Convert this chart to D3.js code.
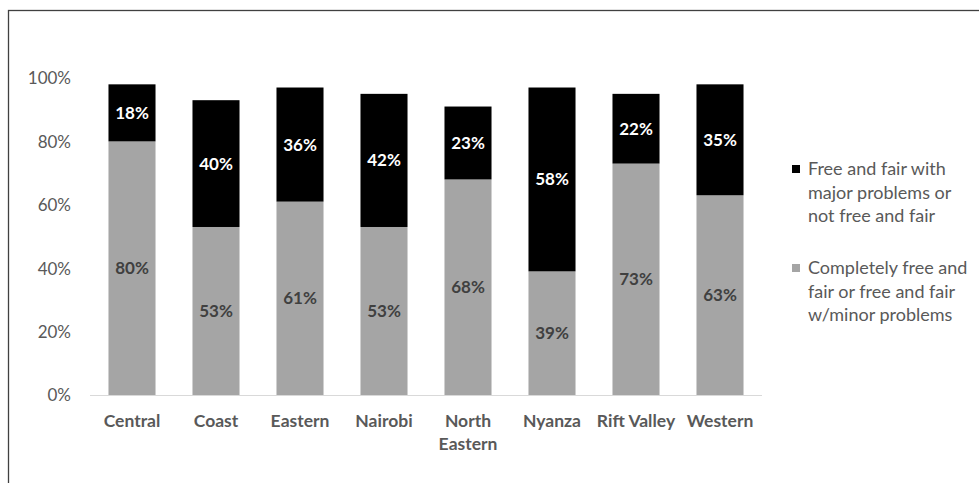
<!DOCTYPE html>
<html>
<head>
<meta charset="utf-8">
<script src="https://cdn.jsdelivr.net/npm/d3@7"></script>
<style>
  html, body { margin: 0; padding: 0; background: #fff; }
  svg { display: block; }
</style>
</head>
<body>
<svg id="chart" width="979" height="483"></svg>
<script>
// Kenyan provinces and the share rating the election in each way
const categories = ["Central", "Coast", "Eastern", "Nairobi", "North Eastern", "Nyanza", "Rift Valley", "Western"];
const freeValues = [80, 53, 61, 53, 68, 39, 73, 63];
const notFreeValues = [18, 40, 36, 42, 23, 58, 22, 35];
const yTicks = [0, 20, 40, 60, 80, 100];
const seriesNames = [
  "Free and fair with major problems or not free and fair",
  "Completely free and fair or free and fair w/minor problems"
];
const legendLines = [
  ["Free and fair with", "major problems or", "not free and fair"],
  ["Completely free and", "fair or free and fair", "w/minor problems"]
];

const FONT = "Lato, 'Open Sans', sans-serif";
const GRAY = "#a5a5a5";
const BLACK = "#000000";

const svg = d3.select("#chart");

// chart frame
svg.append("rect")
  .attr("x", 8.5).attr("y", 10.5)
  .attr("width", 1000).attr("height", 1000)
  .attr("fill", "none").attr("stroke", "#404040").attr("stroke-width", 1.3);

const plot = { left: 90, right: 762, top: 78, bottom: 395 };

const x = d3.scaleBand()
  .domain(categories)
  .range([plot.left, plot.right])
  .paddingInner(0.44)
  .paddingOuter(0.22);

const y = d3.scaleLinear().domain([0, 100]).range([plot.bottom, plot.top]);

const rows = categories.map((c, i) => ({ cat: c, free: freeValues[i], notFree: notFreeValues[i] }));

// baseline
svg.append("line")
  .attr("x1", plot.left).attr("x2", plot.right)
  .attr("y1", y(0) + 0.5).attr("y2", y(0) + 0.5)
  .attr("stroke", "#d9d9d9").attr("stroke-width", 1);

// y axis labels
const yAxis = d3.axisLeft(y).tickValues(yTicks).tickFormat(d => d + "%").tickSize(0).tickPadding(0);
const yg = svg.append("g").attr("transform", `translate(${plot.left - 19},0)`).call(yAxis);
yg.select(".domain").remove();
yg.selectAll("text")
  .attr("font-family", FONT).attr("font-size", 17).attr("fill", "#595959")
  .attr("dy", "0.35em");

// x axis labels
const xAxis = d3.axisBottom(x).tickSize(0).tickPadding(0);
const xg = svg.append("g").attr("transform", `translate(0,${plot.bottom + 26})`).call(xAxis);
xg.select(".domain").remove();
xg.selectAll("text").each(function(d) {
  const t = d3.select(this);
  t.text(null).attr("dy", null).attr("y", 0)
    .attr("font-family", FONT).attr("font-size", 17.5).attr("font-weight", "bold")
    .attr("fill", "#595959");
  const words = d === "North Eastern" ? ["North", "Eastern"] : [d];
  words.forEach((w, i) => {
    t.append("tspan").attr("x", 0).attr("y", i * 23).attr("dy", "0.35em").text(w);
  });
});

// bottom segments
svg.append("g").selectAll("rect")
  .data(rows).join("rect")
  .attr("x", d => x(d.cat)).attr("width", x.bandwidth())
  .attr("y", d => y(d.free)).attr("height", d => y(0) - y(d.free))
  .attr("fill", GRAY);

// top segments
svg.append("g").selectAll("rect")
  .data(rows).join("rect")
  .attr("x", d => x(d.cat)).attr("width", x.bandwidth())
  .attr("y", d => y(d.free + d.notFree)).attr("height", d => y(d.free) - y(d.free + d.notFree))
  .attr("fill", BLACK);

// segment value labels
svg.append("g").selectAll("text")
  .data(rows).join("text")
  .attr("x", d => x(d.cat) + x.bandwidth() / 2)
  .attr("y", d => y(d.free / 2))
  .attr("dy", "0.35em").attr("text-anchor", "middle")
  .attr("font-family", FONT).attr("font-size", 17).attr("font-weight", "bold")
  .attr("fill", "#404040")
  .text(d => d.free + "%");

svg.append("g").selectAll("text")
  .data(rows).join("text")
  .attr("x", d => x(d.cat) + x.bandwidth() / 2)
  .attr("y", d => y(d.free + d.notFree / 2))
  .attr("dy", "0.35em").attr("text-anchor", "middle")
  .attr("font-family", FONT).attr("font-size", 17).attr("font-weight", "bold")
  .attr("fill", "#ffffff")
  .text(d => d.notFree + "%");

// legend
const legendColors = [BLACK, GRAY];
const legendTops = [169, 268];
const legend = svg.append("g");
seriesNames.forEach((name, i) => {
  const g = legend.append("g").attr("aria-label", name);
  g.append("rect")
    .attr("x", 792).attr("y", legendTops[i] - 4)
    .attr("width", 8).attr("height", 8)
    .attr("fill", legendColors[i]);
  const t = g.append("text")
    .attr("font-family", FONT).attr("font-size", 18).attr("fill", "#595959");
  legendLines[i].forEach((line, j) => {
    t.append("tspan").attr("x", 808).attr("y", legendTops[i] + j * 23.5).attr("dy", "0.35em").text(line);
  });
});
</script>
</body>
</html>
